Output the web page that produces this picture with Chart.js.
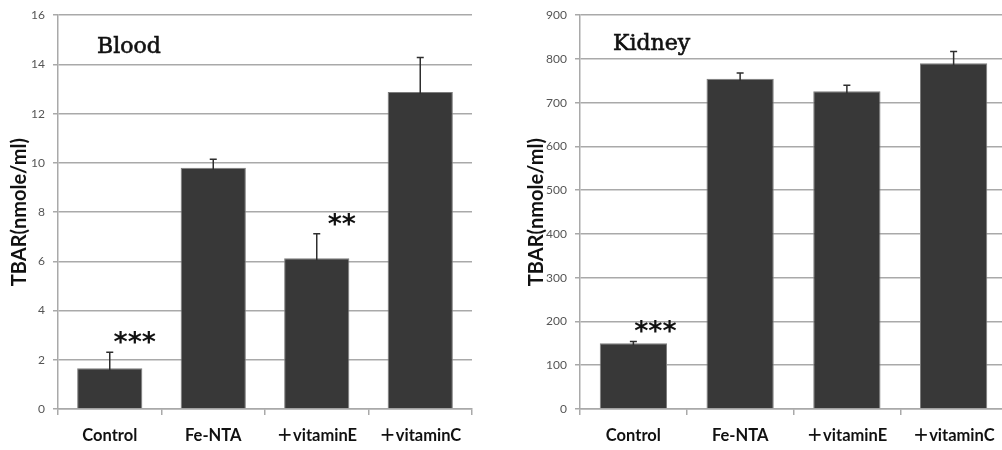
<!DOCTYPE html>
<html>
<head>
<meta charset="utf-8">
<title>TBAR – Blood and Kidney</title>
<script src="https://cdn.jsdelivr.net/npm/chart.js@4.4.1/dist/chart.umd.min.js"></script>
<style>
  html, body { margin: 0; padding: 0; background: #fff; }
  #wrap { position: relative; width: 1002px; height: 450px; overflow: hidden; }
  #blood { position: absolute; left: 0; top: 0; width: 500px; height: 450px; }
  #kidney { position: absolute; left: 500px; top: 0; width: 510px; height: 450px; }
</style>
</head>
<body>
<div id="wrap">
  <canvas id="blood" width="500" height="450"></canvas>
  <canvas id="kidney" width="510" height="450"></canvas>
</div>
<script>
// Groups on the x axis
const categories = ['Control', 'Fe-NTA', '＋vitaminE', '＋vitaminC'];

// Blood TBAR (nmole/ml): means and upper error (SD)
const bloodMeans = [1.66, 9.80, 6.12, 12.88];
const bloodErr   = [0.65, 0.35, 1.00, 1.40];
const bloodStars = ['***', '', '**', ''];

// Kidney TBAR (nmole/ml): means and upper error (SD)
const kidneyMeans = [150, 755, 726, 790];
const kidneyErr   = [4, 13, 14, 27];
const kidneyStars = ['***', '', '', ''];

const yTitle = 'TBAR(nmole/ml)';

const GRID = '#a9a9a9';
const BAR = '#383838';

// Upward error bars with a small cap, plus significance stars and a panel label
const panelExtras = {
  id: 'panelExtras',
  afterDatasetsDraw(chart, args, opts) {
    const ctx = chart.ctx;
    const meta = chart.getDatasetMeta(0);
    const yScale = chart.scales.y;
    const means = chart.data.datasets[0].data;
    ctx.save();
    // error bars
    ctx.strokeStyle = '#2e2e2e';
    ctx.lineWidth = 1.5;
    meta.data.forEach((bar, i) => {
      const x = bar.x;
      const y0 = yScale.getPixelForValue(means[i]);
      const y1 = yScale.getPixelForValue(means[i] + opts.errors[i]);
      ctx.beginPath();
      ctx.moveTo(x, y0 + 2);
      ctx.lineTo(x, y1);
      ctx.moveTo(x - 3.5, y1);
      ctx.lineTo(x + 3.5, y1);
      ctx.stroke();
    });
    // significance stars
    ctx.fillStyle = '#111';
    ctx.font = 'bold 27px "DejaVu Sans"';
    ctx.textAlign = 'center';
    ctx.textBaseline = 'alphabetic';
    meta.data.forEach((bar, i) => {
      const s = opts.stars[i];
      if (!s) return;
      const top = yScale.getPixelForValue(means[i] + opts.errors[i]);
      ctx.fillText(s, bar.x + opts.starDx, top + opts.starDy);
    });
    // panel label, serif, slightly heavier than regular
    ctx.font = '22px "DejaVu Serif"';
    ctx.textAlign = 'left';
    ctx.strokeStyle = '#111';
    ctx.lineWidth = 0.6;
    const lx = chart.chartArea.left + opts.labelDx;
    ctx.fillText(opts.label, lx, opts.labelY);
    ctx.strokeText(opts.label, lx, opts.labelY);
    ctx.restore();
  }
};

function makeChart(id, means, errs, stars, label, yMax, yStep, cfg) {
  return new Chart(document.getElementById(id), {
    type: 'bar',
    data: {
      labels: categories,
      datasets: [{
        data: means,
        backgroundColor: BAR,
        borderColor: '#7d7d7d',
        borderWidth: 1,
        barPercentage: 0.63,
        categoryPercentage: 1.0
      }]
    },
    plugins: [panelExtras],
    options: {
      responsive: false,
      animation: false,
      events: [],
      layout: { padding: { left: 0, right: cfg.padRight, top: cfg.padTop, bottom: 0 } },
      plugins: {
        legend: { display: false },
        tooltip: { enabled: false },
        panelExtras: {
          errors: errs,
          stars: stars,
          label: label,
          labelDx: cfg.labelDx,
          labelY: cfg.labelY,
          starDx: cfg.starDx,
          starDy: cfg.starDy
        }
      },
      scales: {
        x: {
          afterFit(s) { s.height = 41; },
          grid: { offset: true, drawOnChartArea: false, drawTicks: true, tickLength: 6, color: GRID, lineWidth: 1.5 },
          border: { display: true, color: GRID, width: 1.5 },
          ticks: {
            color: '#111',
            padding: 11,
            font: { family: 'Lato, "Noto Sans CJK SC", sans-serif', weight: 'bold', size: 16.5 }
          }
        },
        y: {
          min: 0,
          max: yMax,
          afterFit(s) { s.width = cfg.axisWidth; },
          grid: { color: GRID, lineWidth: 1.5, tickLength: 5 },
          border: { display: true, color: GRID, width: 1.5 },
          ticks: {
            stepSize: yStep,
            color: '#555',
            padding: 8,
            font: { family: 'Lato, sans-serif', size: 12 }
          },
          title: {
            display: true,
            text: yTitle,
            color: '#111',
            padding: { top: cfg.titlePad, bottom: 0 },
            font: { family: 'Lato, sans-serif', weight: 'bold', size: 20 }
          }
        }
      }
    }
  });
}

makeChart('blood', bloodMeans, bloodErr, bloodStars, 'Blood', 16, 2, {
  padTop: 14, padRight: 28, axisWidth: 58, titlePad: 8,
  labelDx: 39, labelY: 53, starDx: 25, starDy: -1
});

makeChart('kidney', kidneyMeans, kidneyErr, kidneyStars, 'Kidney', 900, 100, {
  padTop: 13, padRight: 3, axisWidth: 80, titlePad: 25,
  labelDx: 33, labelY: 50, starDx: 22, starDy: -2
});
</script>
</body>
</html>
